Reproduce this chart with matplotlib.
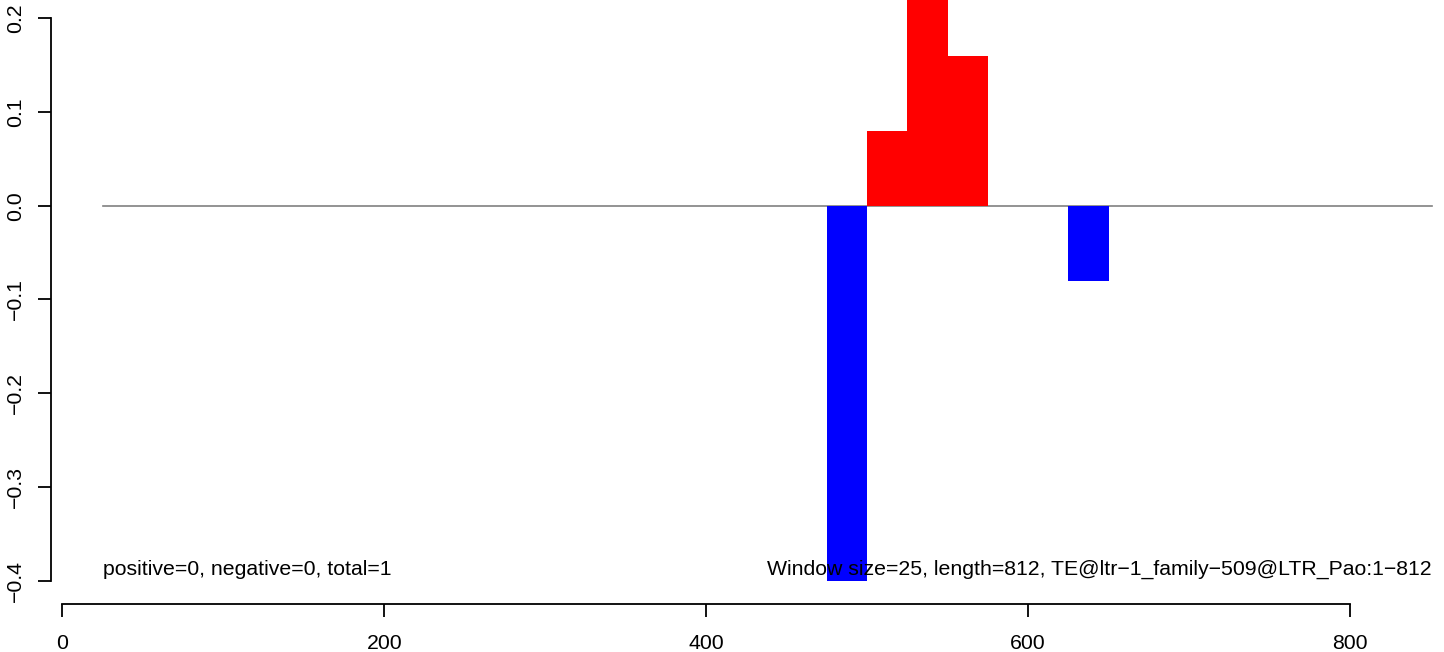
import matplotlib
matplotlib.use("Agg")
import matplotlib.pyplot as plt

plt.rcParams['font.family'] = ['Liberation Sans', 'DejaVu Sans']

# data
window_starts = [475, 500, 525, 550, 625]
window_values = [-0.40, 0.08, 0.24, 0.16, -0.08]
window_size = 25
seq_length = 812
x_ticks = [0, 200, 400, 600, 800]
y_ticks = [-0.4, -0.3, -0.2, -0.1, 0.0, 0.1, 0.2]
left_note = "positive=0, negative=0, total=1"
right_note = "Window size=25, length=812, TE@ltr\u22121_family\u2212509@LTR_Pao:1\u2212812"

W, H, DPI = 1444, 652, 100
fig = plt.figure(figsize=(W / DPI, H / DPI), dpi=DPI)

bottom_px = 580.7
ax = fig.add_axes([0, (H - bottom_px) / H, 1, bottom_px / H])

px_per_unit = (1350 - 62.5) / 800.0
x0 = -62.5 / px_per_unit
x1 = (W - 62.5) / px_per_unit
ax.set_xlim(x0, x1)
px_per_y = (584 - 18.3) / 0.6
y_top = 0.2 + 18.3 / px_per_y
y_bot = 0.2 - (bottom_px - 18.3) / px_per_y
ax.set_ylim(y_bot, y_top)

# zero line
xl = (103 - 62.5) / px_per_unit
xr = (1432 - 62.5) / px_per_unit
ax.plot([xl, xr], [0, 0], color='#808080', lw=1.2, zorder=1)

colors = ['red' if v > 0 else 'blue' for v in window_values]
ax.bar(window_starts, window_values, width=window_size, align='edge', color=colors,
       edgecolor='none', zorder=2)

FS = 15.3
# text
ty = 0.2 - (573 - 18.3) / px_per_y
ax.text(xl, ty, left_note, ha='left', va='center', fontsize=FS)
ax.text(xr, ty, right_note, ha='right', va='center', fontsize=FS)

for s in ['top', 'right']:
    ax.spines[s].set_visible(False)
ax.spines['left'].set_position(('axes', 50.5 / W))
ax.spines['bottom'].set_position(('axes', -(604 - bottom_px) / bottom_px))
ax.spines['left'].set_bounds(y_ticks[0], y_ticks[-1])
ax.spines['bottom'].set_bounds(x_ticks[0], x_ticks[-1])
for s in ['left', 'bottom']:
    ax.spines[s].set_linewidth(1.3)

ax.set_xticks(x_ticks)
ax.set_xticklabels([str(t) for t in x_ticks])
ax.set_yticks(y_ticks)
ax.set_yticklabels(['\u2212%.1f' % abs(t) if t < 0 else '%.1f' % t for t in y_ticks],
                   rotation=90, va='center')
ax.tick_params(axis='both', length=9.4, width=1.3, labelsize=FS)
ax.tick_params(axis='y', pad=9)
ax.tick_params(axis='x', pad=12)
ax.patch.set_visible(False)

fig.savefig("out.png", dpi=DPI)
